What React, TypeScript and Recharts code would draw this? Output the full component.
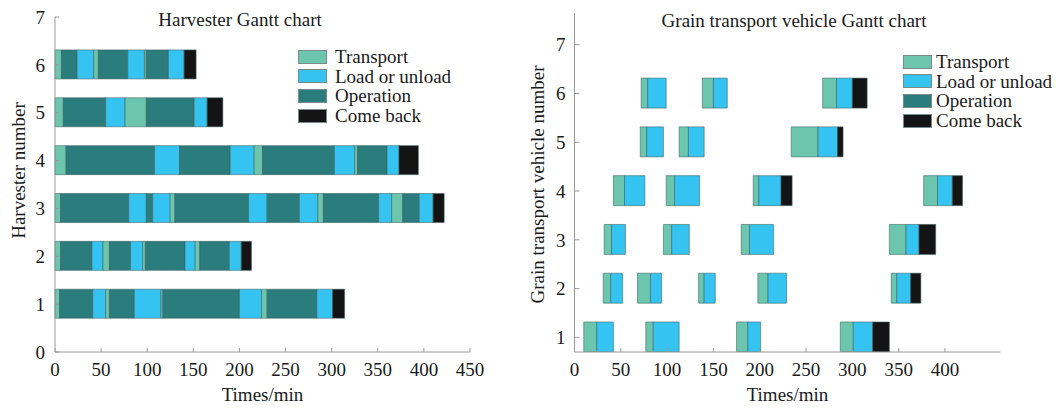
import { BarChart, Bar, XAxis, YAxis, Cell, Legend } from "recharts"

type Seg = [string, number, number]

const font = "'Liberation Serif', 'Times New Roman', serif"

const KINDS = ["T", "L", "O", "C"]
const KIND_NAMES: Record<string, string> = {
  T: "Transport",
  L: "Load or unload",
  O: "Operation",
  C: "Come back",
}
const KIND_COLORS: Record<string, string> = {
  T: "#6cc6ae",
  L: "#35c4f1",
  O: "#2b7d7d",
  C: "#141414",
}

// harvester timelines: [kind, start, end] in minutes
const harvester1: Seg[] = [["T", 0, 5], ["O", 5, 41], ["L", 41, 55], ["T", 55, 59], ["O", 59, 86], ["L", 86, 115], ["T", 115, 117], ["O", 117, 200], ["L", 200, 224], ["T", 224, 230], ["O", 230, 284], ["L", 284, 301], ["C", 301, 314]]
const harvester2: Seg[] = [["T", 0, 6], ["O", 6, 40], ["L", 40, 52], ["T", 52, 59], ["O", 59, 82], ["L", 82, 95], ["T", 95, 98], ["O", 98, 141], ["L", 141, 152], ["T", 152, 157], ["O", 157, 189], ["L", 189, 202], ["C", 202, 213]]
const harvester3: Seg[] = [["T", 0, 6], ["O", 6, 80], ["L", 80, 99], ["O", 99, 106], ["L", 106, 125], ["T", 125, 130], ["O", 130, 210], ["L", 210, 230], ["O", 230, 265], ["L", 265, 285], ["T", 285, 291], ["O", 291, 351], ["L", 351, 365], ["T", 365, 377], ["O", 377, 395], ["L", 395, 410], ["C", 410, 422]]
const harvester4: Seg[] = [["T", 0, 12], ["O", 12, 108], ["L", 108, 135], ["O", 135, 190], ["L", 190, 216], ["T", 216, 225], ["O", 225, 303], ["L", 303, 325], ["T", 325, 328], ["O", 328, 360], ["L", 360, 373], ["C", 373, 394]]
const harvester5: Seg[] = [["T", 0, 9], ["O", 9, 55], ["L", 55, 76], ["T", 76, 99], ["O", 99, 151], ["L", 151, 165], ["C", 165, 182]]
const harvester6: Seg[] = [["T", 0, 7], ["O", 7, 24], ["L", 24, 42], ["T", 42, 47], ["O", 47, 79], ["L", 79, 97], ["T", 97, 99], ["O", 99, 123], ["L", 123, 140], ["C", 140, 153]]

// grain transport vehicle timelines
const vehicle1: Seg[] = [["T", 10, 24], ["L", 24, 42], ["T", 77, 85], ["L", 85, 113], ["T", 175, 187], ["L", 187, 201], ["T", 287, 301], ["L", 301, 322], ["C", 322, 340]]
const vehicle2: Seg[] = [["T", 31, 39], ["L", 39, 52], ["T", 68, 82], ["L", 82, 94], ["T", 134, 140], ["L", 140, 152], ["T", 198, 209], ["L", 209, 229], ["T", 342, 348], ["L", 348, 363], ["C", 363, 374]]
const vehicle3: Seg[] = [["T", 32, 40], ["L", 40, 55], ["T", 96, 105], ["L", 105, 124], ["T", 180, 189], ["L", 189, 215], ["T", 340, 358], ["L", 358, 372], ["C", 372, 390]]
const vehicle4: Seg[] = [["T", 42, 54], ["L", 54, 76], ["T", 99, 108], ["L", 108, 135], ["T", 193, 199], ["L", 199, 223], ["C", 223, 235], ["T", 377, 392], ["L", 392, 408], ["C", 408, 419]]
const vehicle5: Seg[] = [["T", 71, 78], ["L", 78, 96], ["T", 113, 123], ["L", 123, 140], ["T", 234, 263], ["L", 263, 284], ["C", 284, 290]]
const vehicle6: Seg[] = [["T", 72, 79], ["L", 79, 99], ["T", 138, 150], ["L", 150, 165], ["T", 268, 283], ["L", 283, 300], ["C", 300, 316]]

const harvesterXTicks = [0, 50, 100, 150, 200, 250, 300, 350, 400, 450]
const harvesterYTicks = [0, 1, 2, 3, 4, 5, 6, 7]
const vehicleXTicks = [0, 50, 100, 150, 200, 250, 300, 350, 400]
const vehicleYTicks = [1, 2, 3, 4, 5, 6, 7]

const toRows = (rows: Seg[][]) =>
  rows.flatMap((segs, i) =>
    segs.map(([kind, start, end]) => ({ row: i + 1, span: [start, end], kind }))
  )

const harvesterData = toRows([harvester1, harvester2, harvester3, harvester4, harvester5, harvester6])
const vehicleData = toRows([vehicle1, vehicle2, vehicle3, vehicle4, vehicle5, vehicle6])

const tickStyle = { fontSize: 19, fill: "#1a1a1a", fontFamily: font }
const labelStyle = { fontSize: 19, fill: "#1a1a1a", fontFamily: font }

function GanttLegend({ gap }: { gap: number }) {
  return (
    <div style={{ fontFamily: font, fontSize: 19, color: "#1a1a1a" }}>
      {KINDS.map((k) => (
        <div key={k} style={{ display: "flex", alignItems: "center", height: 19.6, whiteSpace: "nowrap" }}>
          <span
            style={{
              display: "inline-block",
              width: 29,
              height: 14,
              background: KIND_COLORS[k],
              border: "1px solid #7a8a8a",
              boxSizing: "border-box",
              marginRight: gap,
            }}
          />
          <span style={{ lineHeight: "19px" }}>{KIND_NAMES[k]}</span>
        </div>
      ))}
    </div>
  )
}

const titleStyle: any = {
  position: "absolute",
  transform: "translateX(-50%)",
  fontFamily: font,
  fontSize: 19,
  lineHeight: "22px",
  color: "#1a1a1a",
  whiteSpace: "nowrap",
  zIndex: 2,
}

export default function App() {
  return (
    <div style={{ position: "absolute", left: 0, top: 0, width: 1061, height: 410, background: "#fff", fontFamily: font }}>
      {/* harvester chart */}
      <div style={{ position: "absolute", left: 0, top: 0, width: 515, height: 410 }}>
        <div style={{ ...titleStyle, left: 240, top: 9 }}>Harvester Gantt chart</div>
        <BarChart
          width={515}
          height={410}
          layout="vertical"
          data={harvesterData}
          margin={{ top: 17, right: 45, bottom: 8, left: 15 }}
        >
          <XAxis
            type="number"
            domain={[0, 450]}
            ticks={harvesterXTicks}
            height={50}
            stroke="#9a9a9a"
            tickSize={-4}
            tickMargin={15}
            tick={tickStyle}
            label={{ value: "Times/min", position: "insideBottom", offset: 1, ...labelStyle }}
          />
          <YAxis
            type="number"
            dataKey="row"
            reversed
            domain={[0, 7]}
            ticks={harvesterYTicks}
            width={40}
            stroke="#9a9a9a"
            tickSize={-4}
            tickMargin={14}
            tick={tickStyle}
            label={{
              value: "Harvester number",
              angle: -90,
              position: "insideLeft",
              offset: 3,
              dy: -14,
              style: { textAnchor: "middle" },
              ...labelStyle,
            }}
          />
          <Legend
            layout="horizontal"
            verticalAlign="middle"
            align="center"
            wrapperStyle={{ top: 47, left: 298, width: "auto" }}
            content={() => <GanttLegend gap={8} />}
          />
          <Bar dataKey="span" barSize={29} isAnimationActive={false}>
            {harvesterData.map((d, i) => (
              <Cell key={i} fill={KIND_COLORS[d.kind]} stroke="#3d5c5c" strokeOpacity={0.55} strokeWidth={1} />
            ))}
          </Bar>
        </BarChart>
      </div>

      {/* grain transport vehicle chart */}
      <div style={{ position: "absolute", left: 515, top: 0, width: 546, height: 410 }}>
        <div style={{ ...titleStyle, left: 279, top: 10 }}>Grain transport vehicle Gantt chart</div>
        <BarChart
          width={546}
          height={410}
          layout="vertical"
          data={vehicleData}
          margin={{ top: 13, right: 60.5, bottom: 8, left: 19.5 }}
        >
          <XAxis
            type="number"
            domain={[0, 460]}
            ticks={vehicleXTicks}
            height={50}
            stroke="#9a9a9a"
            tickSize={-4}
            tickMargin={15}
            tick={tickStyle}
            label={{ value: "Times/min", position: "insideBottom", offset: 1, ...labelStyle }}
          />
          <YAxis
            type="number"
            dataKey="row"
            reversed
            domain={[0.7, 7.65]}
            ticks={vehicleYTicks}
            allowDataOverflow
            width={40}
            stroke="#9a9a9a"
            tickSize={-5}
            tickMargin={14}
            tick={tickStyle}
            label={{
              value: "Grain transport vehicle number",
              angle: -90,
              position: "insideLeft",
              offset: 2.5,
              dy: 2,
              style: { textAnchor: "middle" },
              ...labelStyle,
            }}
          />
          <Legend
            layout="horizontal"
            verticalAlign="middle"
            align="center"
            wrapperStyle={{ top: 52, left: 388, width: "auto" }}
            content={() => <GanttLegend gap={4} />}
          />
          <Bar dataKey="span" barSize={30} isAnimationActive={false}>
            {vehicleData.map((d, i) => (
              <Cell key={i} fill={KIND_COLORS[d.kind]} stroke="#3d5c5c" strokeOpacity={0.55} strokeWidth={1} />
            ))}
          </Bar>
        </BarChart>
      </div>
    </div>
  )
}
